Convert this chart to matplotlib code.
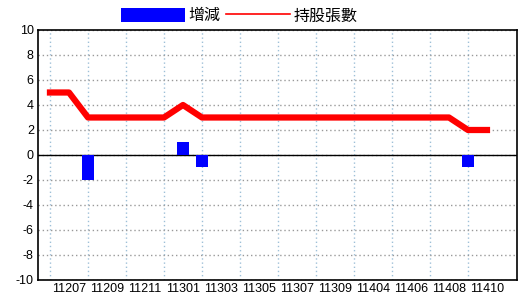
import matplotlib.pyplot as plt
from matplotlib.patches import Patch
from matplotlib.lines import Line2D

# 月份 (民國年月)
months = ['11206', '11207', '11208', '11209', '11210', '11211', '11212',
          '11301', '11302', '11303', '11304', '11305', '11306', '11307',
          '11308', '11309', '11310', '11404', '11405', '11406', '11407',
          '11408', '11409', '11410']
# 增減
change = [0, 0, -2, 0, 0, 0, 0, 1, -1, 0, 0, 0, 0, 0, 0, 0, 0, 0, 0, 0, 0, 0, -1, 0]
# 持股張數
holding = [5, 5, 3, 3, 3, 3, 3, 4, 3, 3, 3, 3, 3, 3, 3, 3, 3, 3, 3, 3, 3, 3, 2, 2]

plt.rcParams['font.family'] = ['Liberation Sans', 'DejaVu Sans']
plt.rcParams['axes.unicode_minus'] = False

fig = plt.figure(figsize=(5.2, 3.0), dpi=100)
ax = fig.add_axes([0.0731, 0.0667, 0.9211, 0.8333])

x = list(range(len(months)))
ax.bar(x, change, width=0.63, color='#0000ff', zorder=3)
ax.plot(x, holding, color='#ff0000', linewidth=4.5, zorder=4)
ax.axhline(0, color='black', linewidth=1, zorder=2)

ax.set_xlim(-0.63, 24.58)
ax.set_ylim(-10, 10)
ax.set_yticks(range(-10, 11, 2))
ax.set_xticks(x[1::2])
ax.set_xticklabels(months[1::2])
ax.set_xticks(x[0::2], minor=True)
ax.tick_params(axis='both', which='both', length=0, labelsize=9, pad=3)
ax.tick_params(axis='x', pad=2)

ax.grid(False)
ax.grid(True, which='minor', axis='x', color='#9ec0d8', linestyle=(0, (1, 2)), linewidth=1)
ax.grid(True, which='major', axis='y', color='#999999', linestyle=(0, (1, 2)), linewidth=1)
ax.set_axisbelow(True)
for s in ax.spines.values():
    s.set_color('black')
    s.set_linewidth(1.2)

handles = [Patch(facecolor='#0000ff', edgecolor='none'),
           Line2D([0], [0], color='#ff0000', linewidth=1.2)]
fig.legend(handles, ['增減', '持股張數'], ncol=2, frameon=False,
           loc='center', bbox_to_anchor=(0.46, 0.947),
           prop={'family': ['Noto Sans CJK TC', 'DejaVu Sans'], 'size': 11.5},
           handlelength=4, handleheight=1.0, handletextpad=0.2, columnspacing=0.4,
           borderpad=0, borderaxespad=0)

fig.savefig('out.png', dpi=100)
